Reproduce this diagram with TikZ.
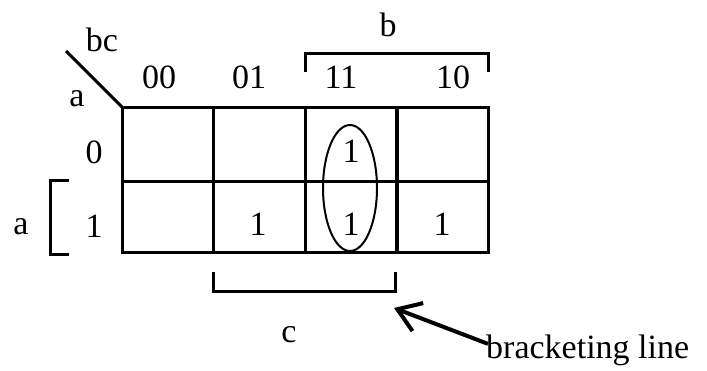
\documentclass[tikz,border=0pt]{standalone}
\usepackage{fontspec}
\setmainfont{Liberation Serif}
\usetikzlibrary{arrows.meta}
\begin{document}
\begin{tikzpicture}[x=1pt,y=-1pt,
  lbl/.style={inner sep=0pt,font=\fontsize{34}{40}\selectfont},
  grid/.style={line width=3pt,line cap=rect},
  brk/.style={line width=3pt},
  loop/.style={line width=2pt}]
\useasboundingbox (0,0) rectangle (707,370);
% grid
\draw[grid] (122,107) rectangle (488,252);
\draw[grid] (122,181) -- (488,181);
\draw[grid] (213,107) -- (213,252);
\draw[grid] (305,107) -- (305,252);
\draw[line width=4pt] (397,107) -- (397,252);
% corner diagonal
\coordinate (dA) at (66,51);
\coordinate (dB) at (122,107);
\draw[line width=3pt] (dA) -- (dB);
% labels
\node[lbl] (bc) at (102,40) {bc};
\node[lbl] (acorner) at (77,99) {a};
\node[lbl] (c00) at (159,77) {00};
\node[lbl] (c01) at (249,77) {01};
\node[lbl] (c11) at (341,77) {11};
\node[lbl] (c10) at (453,77) {10};
\node[lbl] (r0) at (94,152) {0};
\node[lbl] (r1) at (94,226) {1};
\node[lbl] (aleft) at (21,227) {a};
\node[lbl] (b) at (388,25) {b};
\node[lbl] (c) at (289,335) {c};
% cell values
\node[lbl] (v11a) at (351,151) {1};
\node[lbl] (v11b) at (351,224) {1};
\node[lbl] (v01b) at (258,224) {1};
\node[lbl] (v10b) at (442,224) {1};
% loop
\draw[loop] (350,188) ellipse [x radius=27, y radius=63];
% brackets
\draw[brk] (305,72) -- (305,53) -- (488,53) -- (488,72);
\draw[brk] (69,180) -- (50,180) -- (50,254) -- (69,254);
\draw[brk] (213,272) -- (213,291) -- (395,291) -- (395,272);
% arrow
\node[lbl,anchor=base west] (bl) at (486,358) {bracketing line};
\coordinate (tip) at (394,308);
\draw[line width=4pt,-{Straight Barb[length=22pt,width=30pt]}] (bl.west) ++(2,-6) coordinate (tail) (tail) -- (tip);
\end{tikzpicture}
\end{document}
